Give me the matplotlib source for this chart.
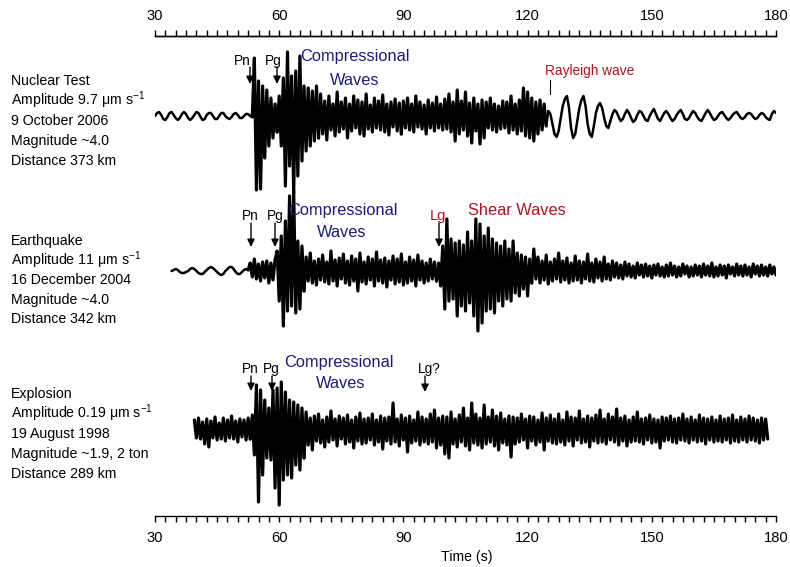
import numpy as np
import matplotlib
matplotlib.use('Agg')
import matplotlib.pyplot as plt
from matplotlib import font_manager
from matplotlib.ticker import MultipleLocator

# ---------------- data (amplitudes, pixel-like units) ----------------
time_ticks = [30, 60, 90, 120, 150, 180]
sample_step = 0.5

# Nuclear test trace, samples every 0.5 s from 30.0 s
nuclear_start = 30.0
nuclear_pre = [0, 3, 4, 1, -3, -4, -1, 3, 4, 1, -2, -4, -2, 2, 4, 2, -2, -4, -2, 1, 4, 3, -1, -4,
               -3, 1, 3, 3, 0, -3, -3, 0, 3, 3, 0, -2, -3, -1, 2, 3, 1, -2, -2, 0, 2, 2, 0, -1]
nuclear_pn = [58, -74, 35, -73, 30, -42, 26, -30, 18, -22, 12, -16]
nuclear_pg = [20, -30, 38, -70, 64, -50, 40, -77, 45, -60, 60, -45, 30, -35, 28, -30, 25, -25, 30, -22]
nuclear_coda = [22, -18, 15, -24, 20, -14, 12, -20, 24, -16, 14, -13, 18, -22, 12, -15, 20, -12, 16, -18,
                14, -20, 22, -13, 11, -16, 18, -12, 15, -14, 21, -16, 12, -19, 14, -11, 17, -15, 13, -18]
nuclear_late = [15, -12, 18, -14, 12, -16, 20, -11, 14, -13, 11, -18, 16, -12, 13, -15, 19, -12, 12, -14,
                17, -13, 22, -16, 14, -25, 26, -18, 15, -14, 24, -20, 13, -27, 18, -15, 12, -28, 16, -22,
                14, -12, 18, -14, 12, -16, 10, -13, 15, -12, 14, -17, 20, -14, 12, -18, 16, -15, 28, -20,
                24, -22, 18, -25, 14, -18, 16, -14, 12, -10]
nuclear_rayleigh = [5, 2, -8, -18, -21, -15, -2, 10, 17, 20, 8, -12, -22, -18, -5, 8, 16, 20, 10, -8,
                    -18, -21, -10, 3, 10, 13, 8, -2, -10, -12, -5]
nuclear_tail = [2, 6, 4, -1, -5, -3, 2, 6, 3, -2, -6, -4, 1, 5, 4, 0, -4, -5, 0, 4,
                7, 2, -3, -5, -1, 3, 5, 2, -2, -5, -3, 1, 4, 6, 2, -3, -4, -2, 2, 5,
                3, -1, -4, -5, -1, 3, 6, 3, -1, -4, -3, 0, 3, 4, 1, -2, -4, -2, 1, 3,
                4, 1, -2, -3, -1, 2, 3, 2, -1, -3, -2, 1, 3, 2, -1, -3, -4, 2, 5, 3]

# Earthquake trace, samples every 0.5 s from 34.0 s
quake_start = 34.0
quake_pre = [0, 1, 2, 1, -1, -2, -2, -1, 0, 2, 3, 2, 0, -2, -3, -3, -1, 1, 3, 4, 3, 1, -1, -3,
             -4, -3, 0, 2, 4, 4, 2, -1, -3, -3, -1, 1, 2, 1]
quake_pn = [8, -6, 12, -8, 7, -10, 9, -7, 10, -12, 8, -9, 11]
quake_pg = [20, -30, 35, -55, 50, -40, 75, -35, 80, -42, 30, -38, 25, -20]
quake_coda = [14, -10, 18, -12, 10, -14, 12, -9, 16, -11, 9, -13, 20, -10, 11, -15, 13, -8, 17, -12,
              10, -14, 15, -10, 12, -20, 18, -11, 9, -13, 14, -9, 12, -15, 19, -10, 11, -12, 13, -16,
              10, -9, 15, -13, 12, -11, 17, -14, 9, -12, 14, -10, 11, -15, 16, -9, 10, -12, 8, -10,
              12, -8, 9, -10]
quake_lg = [8, -15, 25, -38, 52, -30, 32, -28, 28, -45, 30, -35, 26, -40, 39, -32, 30, -45, 52, -60,
            47, -52, 35, -40, 43, -38, 32, -42, 28, -30, 25, -35, 30, -28, 22, -30, 30, -22, 18, -25,
            16, -18, 14, -25, 12, -12]
quake_tail = [22, -8, 14, -12, 10, -9, 16, -13, 9, -10, 12, -8, 18, -11, 10, -9, 13, -12, 8, -10,
              15, -9, 10, -12, 9, -8, 17, -10, 8, -11, 12, -7, 9, -10, 14, -8, 7, -9, 10, -6,
              8, -7, 6, -8, 9, -5, 7, -6, 5, -7, 8, -4, 6, -6, 7, -5, 5, -7, 6, -4,
              7, -5, 4, -6, 6, -5, 8, -4, 5, -6, 4, -5, 7, -3, 5, -6, 4, -5, 6, -4,
              5, -6, 7, -4, 5, -5, 8, -6, 4, -5, 6, -4, 5, -7, 6, -3, 4, -5, 7, -4,
              5, -5, 6, -4, 4, -6, 7, -3, 5, -5, 6, -4, 4, -5, 6, -3, 4, -4]

# Explosion trace, samples every 0.5 s from 39.5 s
blast_start = 39.5
blast_pre = [10, -8, 12, -9, 8, -14, 11, -17, 9, -8, 13, -10, 7, -9, 12, -11, 10, -8, 14, -9,
             9, -12, 11, -7, 10, -10, 12, -9]
blast_p = [15, -25, 45, -72, 40, -45, 30, -28, 22, -30, 40, -58, 42, -75, 48, -50, 38, -45, 30, -48,
           28, -35, 25, -40, 22, -28]
blast_coda = [18, -15, 12, -20, 14, -11, 16, -13, 10, -17, 13, -12, 19, -10, 11, -16, 14, -9, 12, -14,
              15, -12, 10, -18, 13, -11, 17, -14, 11, -13, 12, -10, 16, -15, 10, -12, 14, -19, 12, -11,
              13, -14, 27, -12, 11, -16, 15, -10, 12, -22, 14, -13, 10, -11, 18, -15, 13, -12, 11, -14,
              16, -12, 20, -18, 12, -15, 14, -24, 13, -28, 18, -14, 11, -17, 15, -12, 22, -16, 12, -20,
              27, -13, 16, -15, 12, -18, 25, -14, 13, -12, 20, -16, 14, -20, 17, -13, 11, -15, 14, -27,
              13, -14, 12, -12, 16, -10, 11, -18, 14, -11, 13, -15, 10, -12, 17, -20, 12, -11, 15, -13,
              11, -14, 16, -12, 10, -15, 18, -11, 13, -16, 12, -10, 19, -13, 11, -12, 14, -17, 12, -11,
              15, -13, 20, -12, 11, -14, 16, -10, 13, -12, 21, -15, 12, -11, 14, -16, 10, -12, 13, -11,
              18, -12, 11, -14, 12, -10, 15, -13, 11, -12, 10, -18, 13, -11, 12, -10, 14, -12, 11, -13,
              12, -10, 16, -11, 11, -13, 13, -10, 10, -12, 15, -11, 12, -14, 11, -10, 13, -12, 10, -11,
              14, -12, 11, -10, 12, -13, 15, -11, 10, -12, 13, -10, 11, -12, 14, -10, 12, -11, 10, -13,
              12, -10, 11, -9]

nuclear_info = ["Nuclear Test", "Amplitude 9.7 \u03bcm s$^{-1}$", "9 October 2006",
                "Magnitude ~4.0", "Distance 373 km"]
quake_info = ["Earthquake", "Amplitude 11 \u03bcm s$^{-1}$", "16 December 2004",
              "Magnitude ~4.0", "Distance 342 km"]
blast_info = ["Explosion", "Amplitude 0.19 \u03bcm s$^{-1}$", "19 August 1998",
              "Magnitude ~1.9, 2 ton", "Distance 289 km"]

# ---------------- style ----------------
names = {f.name for f in font_manager.fontManager.ttflist}
if 'Liberation Sans Narrow' in names:
    NARROW, nscale = 'Liberation Sans Narrow', 1.0
else:
    NARROW, nscale = 'Liberation Sans', 0.85
REG = 'Liberation Sans'
plt.rcParams['font.family'] = [NARROW, 'DejaVu Sans']
plt.rcParams['mathtext.fontset'] = 'custom'
plt.rcParams['mathtext.rm'] = NARROW
plt.rcParams['mathtext.default'] = 'regular'

BLUE = '#1c1a7c'
RED = '#b3121f'
LW_DENSE, LW_QUIET = 2.3, 1.8

W, H = 790, 567
fig = plt.figure(figsize=(W / 100, H / 100), dpi=100)
L, R, T, B = 155, 776, 36, 516
ax = fig.add_axes([L / W, 1 - B / H, (R - L) / W, (B - T) / H])
ax.set_xlim(30, 180)
ax.set_ylim(0, B - T)

def X(px):
    return 30 + (px - L) * 150.0 / (R - L)

def Y(py):
    return B - py

def trace(start, parts, widths, base_py):
    vals = np.concatenate([np.asarray(p, dtype=float) for p in parts])
    t = start + sample_step * np.arange(len(vals))
    y = Y(base_py) + vals
    i0 = 0
    for p, lw in zip(parts, widths):
        i1 = i0 + len(p)
        a, b = max(i0 - 1, 0), i1
        ax.plot(t[a:b], y[a:b], color='black', lw=lw, solid_joinstyle='round',
                solid_capstyle='round')
        i0 = i1

trace(nuclear_start, [nuclear_pre, nuclear_pn, nuclear_pg, nuclear_coda, nuclear_late,
                      nuclear_rayleigh, nuclear_tail],
      [LW_QUIET, LW_DENSE, LW_DENSE, LW_DENSE, LW_DENSE, LW_QUIET, LW_QUIET], 116)
trace(quake_start, [quake_pre, quake_pn, quake_pg, quake_coda, quake_lg, quake_tail],
      [LW_QUIET, LW_DENSE, LW_DENSE, LW_DENSE, LW_DENSE, LW_DENSE], 271)
trace(blast_start, [blast_pre, blast_p, blast_coda], [LW_DENSE, LW_DENSE, LW_DENSE], 430)

# axes style
for s in ['left', 'right']:
    ax.spines[s].set_visible(False)
for s in ['top', 'bottom']:
    ax.spines[s].set_linewidth(1.0)
ax.set_yticks([])
ax.set_xticks(time_ticks)
ax.xaxis.set_minor_locator(MultipleLocator(2.5))
ax.tick_params(axis='x', which='both', direction='out', top=False, bottom=True,
               labeltop=False, labelbottom=True, length=4.5, width=1.0)
ax.tick_params(axis='x', which='major', pad=6.5, labelsize=12.5 * nscale)

top = ax.secondary_xaxis('top')
top.set_xticks(time_ticks)
top.xaxis.set_minor_locator(MultipleLocator(2.5))
top.spines['top'].set_linewidth(1.0)
top.tick_params(axis='x', which='both', direction='out', length=4.5, width=1.0)
top.tick_params(axis='x', which='major', pad=4.5, labelsize=12.5 * nscale)

fig.text(467 / W, 1 - 557 / H, 'Time (s)', ha='center', va='center', fontsize=12 * nscale)

# left labels
def info(lines, baselines):
    for txt, yb in zip(lines, baselines):
        fig.text(11 / W, 1 - yb / H, txt, ha='left', va='baseline', fontsize=12 * nscale)

info(nuclear_info, [85, 105, 125, 145, 165])
info(quake_info, [245, 265, 284, 304, 323])
info(blast_info, [398, 418, 438, 458, 478])

def lab(px, pyb, s, color='black', size=11.5, fam=None):
    ax.text(X(px), Y(pyb), s, ha='center', va='baseline', color=color,
            fontsize=size if fam == REG else size * nscale, family=[fam or NARROW, 'DejaVu Sans'])

def arrow(px, y0, y1):
    ax.annotate('', xy=(X(px), Y(y1)), xytext=(X(px), Y(y0)),
                arrowprops=dict(arrowstyle='-|>,head_length=0.45,head_width=0.22',
                                lw=1.0, color='black', shrinkA=0, shrinkB=0))

# trace 1 annotations
lab(242, 65, 'Pn'); arrow(250, 67, 84)
lab(273, 65, 'Pg'); arrow(277, 67, 84)
lab(355, 61, 'Compressional', BLUE, 11.8, REG)
lab(355, 85, 'Waves', BLUE, 11.8, REG)
lab(590, 75, 'Rayleigh wave', RED, 9.8, REG)
ax.plot([X(550), X(550)], [Y(80), Y(94)], color='black', lw=0.8)

# trace 2 annotations
lab(250, 220, 'Pn'); arrow(251, 223, 247)
lab(275, 220, 'Pg'); arrow(275, 223, 247)
lab(343, 215, 'Compressional', BLUE, 11.8, REG)
lab(342, 237, 'Waves', BLUE, 11.8, REG)
lab(438, 220, 'Lg', RED, 10.5, REG); arrow(439, 223, 247)
lab(517, 215, 'Shear Waves', RED, 11.8, REG)

# trace 3 annotations
lab(250, 373, 'Pn'); arrow(251, 376, 391)
lab(271, 373, 'Pg'); arrow(272, 376, 391)
lab(339, 367, 'Compressional', BLUE, 11.8, REG)
lab(341, 388, 'Waves', BLUE, 11.8, REG)
lab(429, 373, 'Lg?'); arrow(425, 376, 392)

fig.savefig('out.png', dpi=100)
